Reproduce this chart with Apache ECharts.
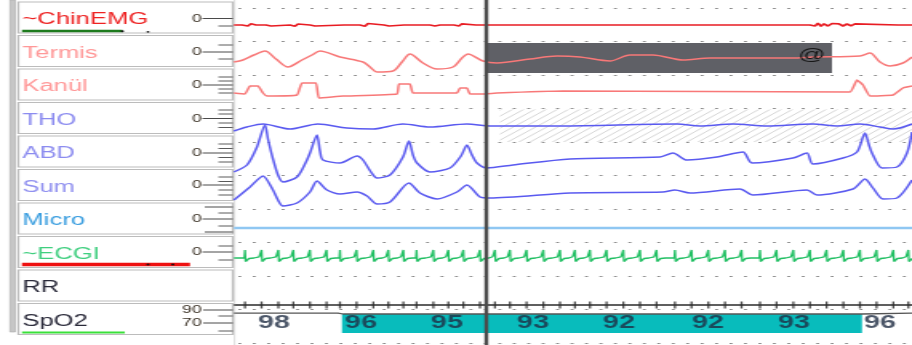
<!DOCTYPE html>
<html><head><meta charset="utf-8">
<script src="https://cdn.jsdelivr.net/npm/echarts@6/dist/echarts.min.js"></script>
<style>
html,body{margin:0;padding:0;background:#fff;overflow:hidden;width:912px;height:345px}
#c{width:570px;height:345px;transform:scaleX(1.6);transform-origin:0 0;}
</style>
</head><body><div id="c"></div>
<script>
// ---------- DATA (time in seconds, amplitudes in relative units) ----------
const T_MAX = 33.9;
const channelNames = ['~ChinEMG','Termis','Kanül','THO','ABD','Sum','Micro','~ECGI','RR','SpO2'];

const chinEmg = [[0,0],[0.4,0],[0.55,0.15],[0.7,-0.1],[0.85,0.12],[1.0,-0.05],[1.1,0],[1.6,0],[1.7,0.15],[1.85,-0.1],[2.0,0],[2.8,0],[2.9,0.12],[3.05,-0.12],[3.2,0.1],[3.3,0],[3.8,0],[3.9,0.15],[4.05,-0.1],[4.2,0],[5.5,0],[5.6,0.12],[5.7,0],[6.3,0],[6.4,0.1],[6.55,-0.12],[6.7,0.15],[6.85,0],[7.5,0],[7.6,0.12],[7.75,-0.1],[7.9,0],[8.5,0],[8.6,0.1],[8.7,0],[9.8,0],[9.9,0.12],[10.05,-0.1],[10.2,0.1],[10.3,0],[11.0,0],[11.1,0.12],[11.25,-0.1],[11.4,0.12],[11.5,0],[12.1,0],[12.2,0.1],[12.3,0],[17.7,0],[17.8,0.1],[17.9,0],[23.2,0],[23.3,0.08],[23.4,0],[25.4,0],[25.5,0.08],[25.6,0],[27.8,0],[27.9,0.1],[28.0,0],[28.8,0],[28.9,0.15],[29.05,-0.1],[29.2,0.18],[29.35,-0.12],[29.5,0.12],[29.7,-0.1],[29.9,0.15],[30.05,-0.05],[30.25,0.12],[30.45,-0.1],[30.65,0.1],[30.85,-0.08],[31.05,0.12],[31.2,0],[33.2,0],[33.3,0.12],[33.4,0],[33.9,0]];

const termis = [[0,-0.4],[0.45,-0.2],[1.0,0.3],[1.55,0.7],[2.1,-0.1],[2.7,-0.9],[3.4,-0.2],[3.9,0.3],[4.3,0.7],[5.3,0.1],[6.45,-0.4],[6.8,-0.9],[7.15,-1.4],[7.95,-1.3],[8.4,-0.4],[8.8,0.4],[9.45,-0.5],[10.15,-1.1],[10.95,-0.9],[11.4,0],[11.7,0.4],[12.45,-0.3],[13.15,-0.5],[14.8,-0.1],[16.15,0.2],[17.3,0.1],[18.8,-0.3],[19.8,0.3],[20.95,0.3],[22.45,-0.2],[23.8,0],[27.95,0],[28.95,0.1],[31.3,0.2],[31.8,0.5],[32.3,-0.4],[32.8,-0.8],[33.45,-0.5],[33.9,0.1]];

const kanul = [[0,-0.1],[0.55,-0.2],[0.8,0.6],[1.2,0.6],[1.45,-0.1],[1.65,-0.4],[3.15,-0.3],[3.4,0.9],[4.1,0.9],[4.25,-0.6],[5.45,-0.4],[8.15,-0.2],[8.25,0.8],[8.8,0.8],[8.95,-0.1],[11.15,-0.1],[11.3,0.4],[11.65,0.4],[11.8,-0.2],[12.45,-0.2],[13.15,-0.1],[16.45,0.1],[30.8,0],[31.15,1.2],[31.45,0.7],[31.8,-0.4],[32.95,-0.3],[33.45,0.4],[33.9,0.6]];

const tho = [[0,-0.5],[0.65,-0.1],[1.45,0.2],[2.8,-0.3],[4.2,0.2],[5.65,-0.2],[6.95,-0.3],[8.45,0.2],[9.8,-0.1],[11.65,0.2],[12.8,0],[16.3,0],[22.15,0.2],[23.3,0],[24.95,0.2],[26.65,0],[28.95,0.2],[30.15,0],[31.3,0.2],[32.3,-0.1],[32.95,-0.3],[33.9,0.2]];

const abd = [[0,-1.3],[0.65,-0.6],[1.15,1.2],[1.55,3.4],[1.7,2.0],[1.95,0],[2.2,-1.6],[2.45,-2.3],[3.15,-1.8],[3.6,-0.3],[3.8,0.6],[4.15,2.4],[4.3,0.8],[4.45,-0.1],[5.3,-0.4],[6.15,0.3],[6.45,-0.1],[6.85,-1.3],[7.15,-1.9],[7.8,-1.6],[8.45,0.2],[8.75,1.8],[8.95,0.4],[9.15,-0.4],[9.8,-1.3],[10.8,-0.9],[11.35,0.3],[11.65,1.4],[11.9,0.4],[12.15,-0.4],[12.65,-0.9],[13.95,-0.6],[16.8,0],[21.3,0.2],[21.95,0.6],[22.65,-0.1],[24.15,0.2],[25.45,0.7],[25.9,-0.4],[27.95,0.1],[28.65,0.6],[28.95,-0.5],[30.45,0.1],[31.15,0.7],[31.55,2.6],[31.75,1.4],[31.9,0.6],[32.4,-0.9],[33.15,-0.8],[33.65,0.6],[33.9,2.7]];

const sum = [[0,-0.8],[0.8,0.5],[1.45,1.6],[1.95,0.2],[2.2,-0.8],[2.45,-1.4],[3.15,-1.1],[3.8,0],[4.15,1.1],[4.65,0.2],[5.3,-0.2],[6.15,0],[6.65,-0.4],[7.15,-1.2],[7.8,-1.0],[8.75,0.9],[9.3,-0.1],[10.15,-0.7],[11.15,0],[11.65,0.7],[12.3,-0.5],[12.8,-0.6],[16.8,-0.1],[21.45,0],[22.05,0.2],[22.8,-0.1],[25.3,0.3],[25.95,-0.3],[28.65,0.2],[29.15,-0.3],[30.95,0.3],[31.55,1.3],[31.95,0.4],[32.45,-0.7],[33.15,-0.6],[33.9,1.2]];

const micro = [[0,-0.2],[33.9,-0.2]];

// heart beat times (s) read from ECG / RR channels, and one beat's shape [offset s, amplitude]
const beatTimes = [0.55,1.38,2.22,2.97,3.8,4.63,5.3,6.13,6.97,7.72,8.47,9.13,9.97,10.72,11.47,12.3,13.05,13.8,14.63,15.47,16.3,17.05,17.8,18.63,19.47,20.3,21.13,22.05,22.88,23.72,24.55,25.38,26.3,27.13,27.97,28.8,29.63,30.47,31.3,32.13,32.97,33.72];
const ecgShape = [[-0.25,0],[-0.12,0.12],[-0.03,0],[0,0.8],[0.03,-0.35],[0.16,-0.35],[0.2,-0.05],[0.32,0.12],[0.45,0]];

const spo2Trace = [[0,1.05],[5.2,1.05],[5.45,1.0],[31.4,1.0],[31.5,1.05],[33.9,1.05]];
const spo2Times = [2.0,6.35,10.65,14.95,19.25,23.7,28.0,32.3];
const spo2Values = [98,96,95,93,92,92,93,96];
const desatStart = 5.4, desatEnd = 31.4;

const cursorT = 12.6;
const apneaBox = [12.65, 29.9];   // grey event box on Termis
const apneaMark = [28.9, 0.3];    // '@' marker
const hatchStart = 13.3;          // hatched THO region

// ---------- LAYOUT ----------
const LEFT = 146.25;
const bands = [ // [top, height] for each channel grid
  [8,34],[41,34],[75,34],[109,34],[142,34],[175,34],[209,34],[241,34],[288,34],[314,19]
];

const grids = [], xAxes = [], yAxes = [];
function addGrid(top, height, ymin, ymax, extraY) {
  const i = grids.length;
  grids.push({left: LEFT, right: 0, top: top, height: height});
  xAxes.push({gridIndex: i, type: 'value', min: 0, max: T_MAX, show: false});
  yAxes.push(Object.assign({gridIndex: i, type: 'value', min: ymin, max: ymax, show: false}, extraY || {}));
  return i;
}
const gBg = addGrid(8, 335, 0, 10, {
  show: true, interval: 1, axisLine: {show: false}, axisTick: {show: false}, axisLabel: {show: false},
  splitLine: {show: true, lineStyle: {color: '#8a8a8a', width: 1, type: [1.8, 7.23], dashOffset: 6.3}}
});
const chIdx = bands.map((b, k) => k === 9 ? addGrid(b[0], b[1], 0, 1) : addGrid(b[0], b[1], -1.7, 1.7));
const gOver = addGrid(0, 345, 0, 1);

// hatch pattern
const pc = document.createElement('canvas');
pc.width = 7; pc.height = 6;
const pctx = pc.getContext('2d');
pctx.strokeStyle = '#d6d6d6'; pctx.lineWidth = 1;
pctx.beginPath(); pctx.moveTo(-7, 12); pctx.lineTo(14, -6); pctx.stroke();

function lineSeries(gi, data, color, width, extra) {
  return Object.assign({
    type: 'line', xAxisIndex: gi, yAxisIndex: gi, data: data, showSymbol: false, symbol: 'none',
    clip: false, silent: true, animation: false,
    lineStyle: {color: color, width: width}
  }, extra || {});
}

const ecgData = [[0, 0]];
beatTimes.forEach(b => ecgShape.forEach(s => ecgData.push([b + s[0], s[1]])));

const series = [
  lineSeries(gBg, [], '#000', 0),
  lineSeries(chIdx[0], chinEmg, '#e81c23', 1.7),
  lineSeries(chIdx[1], termis, '#f87878', 1.5, {
    smooth: 0.3,
    markArea: {silent: true, itemStyle: {color: '#5f6066', opacity: 1},
      data: [[{xAxis: apneaBox[0], yAxis: 1.5}, {xAxis: apneaBox[1], yAxis: -1.5}]]},
    markPoint: {silent: true, symbol: 'circle', symbolSize: 0,
      label: {show: true, position: 'inside', formatter: '@', color: '#161616', fontSize: 17, fontFamily: 'Liberation Sans, Arial'},
      data: [{coord: apneaMark}]}
  }),
  lineSeries(chIdx[2], kanul, '#f87878', 1.5, {smooth: 0.1}),
  lineSeries(chIdx[3], tho, '#5a5af0', 1.5, {smooth: 0.3,
    markArea: {silent: true, itemStyle: {color: {image: pc, repeat: 'repeat'}, opacity: 1},
      data: [[{xAxis: hatchStart, yAxis: 1.65}, {xAxis: T_MAX, yAxis: -1.6}]]}
  }),
  lineSeries(chIdx[4], abd, '#5a5af0', 1.5, {smooth: 0.25}),
  lineSeries(chIdx[5], sum, '#5a5af0', 1.5, {smooth: 0.25}),
  lineSeries(chIdx[6], micro, '#8fc7f2', 2.6),
  lineSeries(chIdx[7], ecgData, '#22c064', 1.3, {clip: true}),
  lineSeries(chIdx[8], [[0,0],[T_MAX,0]], '#2a2a2a', 1.4),
  {type: 'scatter', xAxisIndex: chIdx[8], yAxisIndex: chIdx[8], silent: true, animation: false,
    symbol: 'rect', symbolSize: [1.3, 7], itemStyle: {color: '#222'},
    data: beatTimes.map(b => [b, 0])},
  lineSeries(chIdx[9], spo2Trace, '#555', 1.3, {
    z: 3,
    markArea: {silent: true, itemStyle: {color: '#08bcbc', opacity: 1},
      data: [[{xAxis: desatStart}, {xAxis: desatEnd}]]}
  }),
  {type: 'scatter', xAxisIndex: chIdx[9], yAxisIndex: chIdx[9], silent: true, animation: false, z: 4,
    symbolSize: 0, data: spo2Times.map((t, k) => [t, 0.5, spo2Values[k]]),
    label: {show: true, position: 'inside', formatter: p => String(p.data[2]),
      color: '#1f2d44', fontSize: 18, fontWeight: 'bold', fontFamily: 'Liberation Sans, Arial'}},
  lineSeries(gOver, [], '#000', 0, {z: 10,
    markLine: {silent: true, symbol: ['none','none'], label: {show: false},
      lineStyle: {color: '#4b4b4b', width: 2.4, type: 'solid'},
      data: [{xAxis: cursorT}]}})
];

// ---------- LEFT LABEL PANEL (decorations) ----------
const labelColors = ['#ee2222','#ff9898','#ff9898','#8c8cf0','#8c8cf0','#9090f0','#3a9ee0','#3fcf7f','#2a2a3a','#2a2a3a'];
const rulerLayout = [
  {zero:18.5, ticks:[26]},
  {zero:52, ticks:[45,59]},
  {zero:85, ticks:[77,81,89,93]},
  {zero:118.5, ticks:[110,114,123,127.5]},
  {zero:153, ticks:[144,148.5,157.5,162]},
  {zero:185, ticks:[177,181.5,190,195]},
  {zero:219, ticks:[213,226], long:[207,232]},
  {zero:252, ticks:[246,260]}
];
const FONT = '"Liberation Sans", Arial, sans-serif';
const gfx = [];
gfx.push({type:'rect', shape:{x:6.3,y:0,width:3.2,height:332}, style:{fill:'#c6c6c6', stroke:'#a8a8a8', lineWidth:0.6}});
gfx.push({type:'line', shape:{x1:146.6,y1:0,x2:146.6,y2:345}, style:{stroke:'#d6d6d6', lineWidth:0.8}});
channelNames.forEach((name, i) => {
  const top = 2 + 33.5 * i;
  gfx.push({type:'rect', shape:{x:11.5, y:top, width:134, height:31}, style:{fill:'#fff', stroke:'#bcbcbc', lineWidth:1.2}});
  gfx.push({type:'text', x:14, y:top + 18, style:{text:name, fill:labelColors[i], font:'16px ' + FONT, verticalAlign:'middle'}});
});
rulerLayout.forEach(r => {
  gfx.push({type:'text', x:123, y:r.zero, style:{text:'0', fill:'#3a3024', font:'11px ' + FONT, align:'center', verticalAlign:'middle'}});
  gfx.push({type:'line', shape:{x1:126.5,y1:r.zero,x2:145.5,y2:r.zero}, style:{stroke:'#4a4a4a', lineWidth:1}});
  r.ticks.forEach(y => gfx.push({type:'line', shape:{x1:136.5,y1:y,x2:145.5,y2:y}, style:{stroke:'#5a5a5a', lineWidth:1}}));
  (r.long || []).forEach(y => gfx.push({type:'line', shape:{x1:128,y1:y,x2:145.5,y2:y}, style:{stroke:'#4a4a4a', lineWidth:1}}));
});
[['90',310],['70',323]].forEach(p => {
  gfx.push({type:'text', x:126, y:p[1], style:{text:p[0], fill:'#3a3024', font:'11px ' + FONT, align:'right', verticalAlign:'middle'}});
  gfx.push({type:'line', shape:{x1:127,y1:p[1],x2:145.5,y2:p[1]}, style:{stroke:'#4a4a4a', lineWidth:1}});
});
[316,331].forEach(y => gfx.push({type:'line', shape:{x1:136.5,y1:y,x2:145.5,y2:y}, style:{stroke:'#5a5a5a', lineWidth:1}}));
gfx.push({type:'line', shape:{x1:13.75,y1:31,x2:76.5,y2:31}, style:{stroke:'#1d7a1d', lineWidth:2.5}});
gfx.push({type:'circle', shape:{cx:76.5,cy:31.3,r:1}, style:{fill:'#111'}});
gfx.push({type:'circle', shape:{cx:92.5,cy:31.8,r:0.9}, style:{fill:'#111'}});
gfx.push({type:'line', shape:{x1:13.75,y1:264.5,x2:118.75,y2:264.5}, style:{stroke:'#ee1111', lineWidth:3.5}});
gfx.push({type:'circle', shape:{cx:92.5,cy:264.5,r:1}, style:{fill:'#111'}});
gfx.push({type:'circle', shape:{cx:108,cy:264.5,r:1}, style:{fill:'#111'}});
gfx.push({type:'line', shape:{x1:13.75,y1:332.5,x2:78,y2:332.5}, style:{stroke:'#3ae03a', lineWidth:2}});

const chart = echarts.init(document.getElementById('c'), null, {renderer:'canvas', width:570, height:345, devicePixelRatio:1});
chart.setOption({
  animation: false,
  backgroundColor: '#fff',
  grid: grids, xAxis: xAxes, yAxis: yAxes,
  series: series,
  graphic: gfx
});
</script>
</body></html>
